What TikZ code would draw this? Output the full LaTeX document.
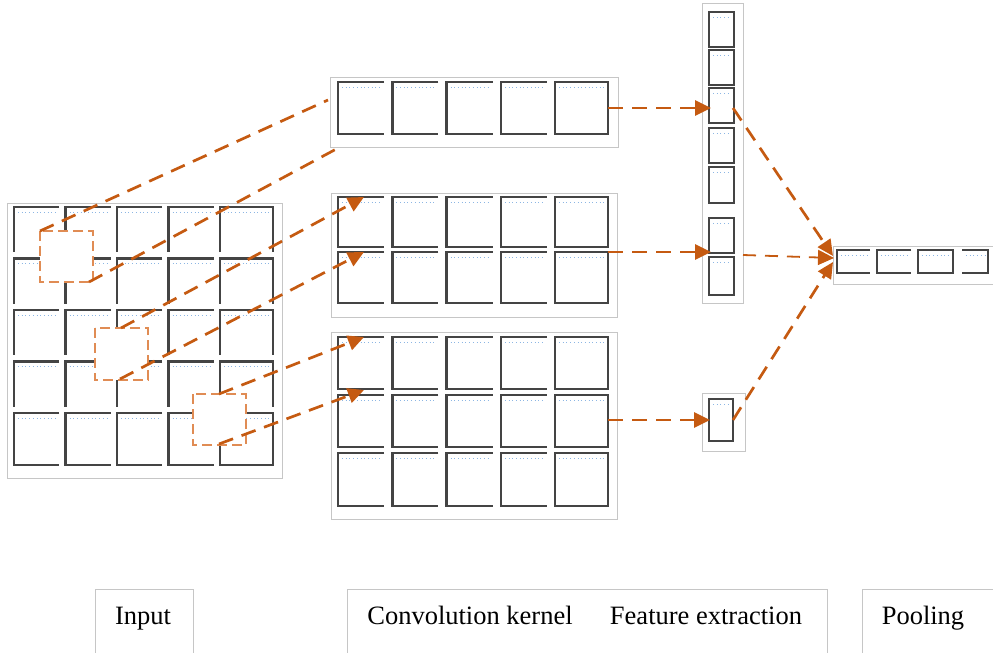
\documentclass[tikz,border=0pt]{standalone}
\usepackage{fontspec}
\setmainfont{Liberation Serif}
\usetikzlibrary{arrows.meta}

\definecolor{arrorange}{RGB}{197,90,17}
\definecolor{boxorange}{RGB}{224,140,84}
\definecolor{framegray}{RGB}{198,198,198}
\definecolor{cellgray}{RGB}{68,68,68}
\definecolor{markblue}{RGB}{140,182,228}

\tikzset{
  frame/.style={draw=framegray, line width=1pt},
  cellline/.style={draw=cellgray, line width=2.4pt},
  marks/.style={draw=markblue, line width=0.9pt, dash pattern=on 0.9pt off 2.8pt},
  flow/.style={draw=arrorange, line width=2.7pt, dash pattern=on 15pt off 9pt,
    -{Triangle[length=16pt,width=15pt]}},
  flowplain/.style={draw=arrorange, line width=2.7pt, dash pattern=on 15pt off 9pt},
  flowthin/.style={draw=arrorange, line width=1.8pt, dash pattern=on 13pt off 9pt,
    -{Triangle[length=16pt,width=15pt]}},
  window/.style={draw=boxorange, fill=white, line width=2pt, dash pattern=on 10pt off 5pt},
  lbl/.style={font=\fontsize{26.5}{31}\selectfont, anchor=base, inner sep=0pt},
}

% open cell: top, left and bottom edges (x, y, width, height)
\newcommand\opencell[4]{%
  \draw[cellline] ({#1+#3},#2) -- (#1,#2) -- (#1,{#2+#4}) -- ({#1+#3},{#2+#4});
  \draw[marks] ({#1+4},{#2+5}) -- ({#1+#3-2},{#2+5});}
% closed cell
\newcommand\closedcell[4]{%
  \draw[cellline] (#1,#2) rectangle ({#1+#3},{#2+#4});
  \draw[marks] ({#1+4},{#2+5}) -- ({#1+#3-4},{#2+5});}

\begin{document}
\begin{tikzpicture}[x=1pt,y=-1pt]
\useasboundingbox (0,0) rectangle (993,653);
\clip (0,0) rectangle (993,653);

% ---------- input grid ----------
\draw[frame] (7,203) rectangle (282,478);
\foreach \i in {0,...,3}{
  \foreach \j in {0,...,3}{
    \pgfmathsetmacro\cx{14+51.5*\i}
    \pgfmathsetmacro\cy{207+51.5*\j}
    \draw[cellline] ({\cx+45},\cy) -- (\cx,\cy) -- (\cx,{\cy+45});
    \draw[marks] ({\cx+4},{\cy+5}) -- ({\cx+43},{\cy+5});
  }
  \pgfmathsetmacro\cx{14+51.5*\i}
  \opencell{\cx}{413}{45}{52}
}
\foreach \j in {0,...,3}{
  \pgfmathsetmacro\cy{207+51.5*\j}
  \draw[cellline] (220,{\cy+45}) -- (220,\cy) -- (273,\cy) -- (273,{\cy+45});
  \draw[marks] (224,{\cy+5}) -- (269,{\cy+5});
}
\closedcell{220}{413}{53}{52}

% sliding windows on the input
\draw[window] (40,231) rectangle (93,282);
\draw[window] (95,328) rectangle (148,380);
\draw[window] (193,394) rectangle (246,445);

% ---------- convolution kernels ----------
\draw[frame] (330,77) rectangle (618,147);
\draw[frame] (331,193) rectangle (617,317);
\draw[frame] (331,332) rectangle (617,519);
\foreach \ry/\rh in {82/52, 197/50, 252/51, 337/52, 395/52, 453/53}{
  \foreach \cx in {338,392.3,446.6,500.9}{
    \opencell{\cx}{\ry}{46}{\rh}
  }
  \closedcell{555}{\ry}{53}{\rh}
}

% ---------- feature extraction ----------
\draw[frame] (702,3) rectangle (743,303);
\foreach \ry/\rh in {12/35, 50/35, 88/35, 128/35, 167/36, 218/35, 257/38}{
  \closedcell{709}{\ry}{25}{\rh}
}
\draw[frame] (702,393) rectangle (745,451);
\closedcell{709}{399}{24}{42}

% ---------- pooling ----------
\draw[frame] (833,246) rectangle (1000,284);
\opencell{837}{250}{33}{23}
\opencell{877}{250}{34}{23}
\closedcell{918}{250}{35}{23}
\draw[cellline] (962,250) -- (988,250) -- (988,273) -- (962,273);
\draw[marks] (966,255) -- (985,255);

% ---------- connector end points ----------
\coordinate (w1a) at (40,231);   \coordinate (k1a) at (328,100);
\coordinate (w1b) at (89,282);   \coordinate (k1b) at (340,147);
\coordinate (w2a) at (121,328);  \coordinate (k2a) at (364,197);
\coordinate (w2b) at (120,379);  \coordinate (k2b) at (364,252);
\coordinate (w3a) at (219,394);  \coordinate (k3a) at (364,337);
\coordinate (w3b) at (219,444);  \coordinate (k3b) at (364,390);
\coordinate (k1out) at (608,108); \coordinate (f1in) at (711,108);
\coordinate (k2out) at (608,252); \coordinate (f2in) at (711,252);
\coordinate (k3out) at (608,420); \coordinate (f3in) at (710,420);
\coordinate (f1out) at (733,108); \coordinate (p1) at (833,256);
\coordinate (fcol) at (743,255);  \coordinate (p2) at (834,258);
\coordinate (f3out) at (733,420); \coordinate (p3) at (833,262);

% ---------- connectors ----------
\draw[flowplain] (w1a) -- (k1a);
\draw[flowplain] (w1b) -- (k1b);
\draw[flow] (w2a) -- (k2a);
\draw[flow] (w2b) -- (k2b);
\draw[flow] (w3a) -- (k3a);
\draw[flow] (w3b) -- (k3b);
\draw[flow] (k1out) -- (f1in);
\draw[flow] (k2out) -- (f2in);
\draw[flow] (k3out) -- (f3in);
\draw[flow] (f1out) -- (p1);
\draw[flowthin] (fcol) -- (p2);
\draw[flow] (f3out) -- (p3);

% ---------- captions ----------
\draw[frame] (95,589) rectangle (193,670);
\draw[frame] (347,589) rectangle (827,670);
\draw[frame] (862,589) rectangle (1000,670);
\node[lbl] (tinput) at (143,624) {Input};
\node[lbl] (tkernel) at (470,624) {Convolution kernel};
\node[lbl] (tfeature) at (706,624) {Feature extraction};
\node[lbl] (tpool) at (923,624) {Pooling};
\end{tikzpicture}
\end{document}
